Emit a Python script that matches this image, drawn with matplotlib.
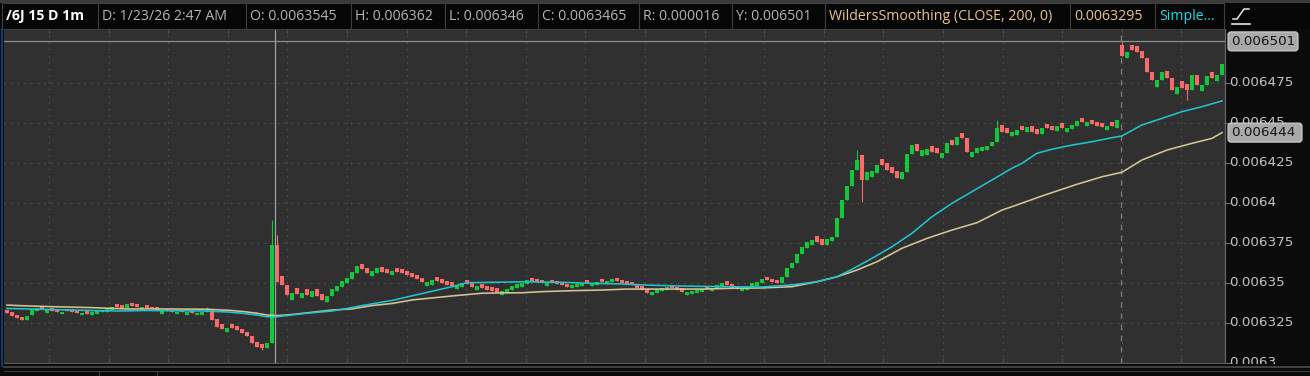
import numpy as np
import matplotlib
matplotlib.use("Agg")
import matplotlib.pyplot as plt
from matplotlib.patches import Rectangle, FancyBboxPatch
from matplotlib.transforms import Bbox, blended_transform_factory

plt.rcParams['lines.scale_dashes'] = False

# ---------------- data ----------------
close = [
    0.0063312, 0.0063294, 0.0063281, 0.0063269, 0.0063294, 0.0063338, 0.0063344, 0.0063338, 0.0063331, 0.0063325,
    0.0063319, 0.0063319, 0.0063325, 0.0063319, 0.0063312, 0.0063312, 0.0063306, 0.0063319, 0.0063325, 0.0063331,
    0.0063338, 0.0063350, 0.0063350, 0.0063344, 0.0063369, 0.0063356, 0.0063350, 0.0063350, 0.0063344, 0.0063338,
    0.0063331, 0.0063325, 0.0063325, 0.0063319, 0.0063319, 0.0063319, 0.0063319, 0.0063312, 0.0063312, 0.0063319,
    0.0063338, 0.0063269, 0.0063225, 0.0063212, 0.0063219, 0.0063219, 0.0063206, 0.0063188, 0.0063169, 0.0063125,
    0.0063100, 0.0063094, 0.0063125, 0.0063738, 0.0063506, 0.0063488, 0.0063425, 0.0063438, 0.0063431, 0.0063438,
    0.0063425, 0.0063450, 0.0063419, 0.0063394, 0.0063419, 0.0063462, 0.0063481, 0.0063512, 0.0063531, 0.0063569,
    0.0063606, 0.0063588, 0.0063562, 0.0063575, 0.0063594, 0.0063569, 0.0063562, 0.0063575, 0.0063569, 0.0063562,
    0.0063550, 0.0063538, 0.0063525, 0.0063506, 0.0063506, 0.0063519, 0.0063512, 0.0063500, 0.0063488, 0.0063481,
    0.0063488, 0.0063500, 0.0063494, 0.0063475, 0.0063481, 0.0063469, 0.0063456, 0.0063450, 0.0063444, 0.0063450,
    0.0063462, 0.0063481, 0.0063494, 0.0063500, 0.0063519, 0.0063512, 0.0063506, 0.0063500, 0.0063500, 0.0063500,
    0.0063494, 0.0063488, 0.0063475, 0.0063488, 0.0063494, 0.0063500, 0.0063500, 0.0063500, 0.0063506, 0.0063506,
    0.0063512, 0.0063525, 0.0063512, 0.0063500, 0.0063494, 0.0063488, 0.0063469, 0.0063456, 0.0063438, 0.0063444,
    0.0063462, 0.0063469, 0.0063475, 0.0063469, 0.0063456, 0.0063444, 0.0063444, 0.0063450, 0.0063456, 0.0063462,
    0.0063462, 0.0063469, 0.0063488, 0.0063500, 0.0063488, 0.0063469, 0.0063462, 0.0063469, 0.0063475, 0.0063500,
    0.0063506, 0.0063525, 0.0063519, 0.0063506, 0.0063500, 0.0063538, 0.0063594, 0.0063625, 0.0063681, 0.0063725,
    0.0063756, 0.0063769, 0.0063756, 0.0063738, 0.0063775, 0.0063788, 0.0063906, 0.0064019, 0.0064106, 0.0064206,
    0.0064269, 0.0064144, 0.0064194, 0.0064200, 0.0064238, 0.0064238, 0.0064206, 0.0064188, 0.0064156, 0.0064194,
    0.0064306, 0.0064362, 0.0064325, 0.0064331, 0.0064338, 0.0064319, 0.0064312, 0.0064312, 0.0064375, 0.0064362,
    0.0064412, 0.0064406, 0.0064319, 0.0064319, 0.0064344, 0.0064350, 0.0064356, 0.0064381, 0.0064469, 0.0064444,
    0.0064438, 0.0064444, 0.0064456, 0.0064456, 0.0064475, 0.0064444, 0.0064431, 0.0064469, 0.0064469, 0.0064456,
    0.0064481, 0.0064469, 0.0064469, 0.0064488, 0.0064512, 0.0064506, 0.0064506, 0.0064494, 0.0064481, 0.0064475,
    0.0064481, 0.0064481, 0.0064519, 0.0064919, 0.0064944, 0.0064956, 0.0064944, 0.0064906, 0.0064819, 0.0064769,
    0.0064769, 0.0064819, 0.0064781, 0.0064706, 0.0064725, 0.0064719, 0.0064706, 0.0064800, 0.0064738, 0.0064738,
    0.0064794, 0.0064781, 0.0064800, 0.0064869,
]
open_ = [
    0.0063330, 0.0063318, 0.0063300, 0.0063286, 0.0063270, 0.0063298, 0.0063324, 0.0063356, 0.0063315, 0.0063342,
    0.0063334, 0.0063304, 0.0063340, 0.0063336, 0.0063328, 0.0063298, 0.0063324, 0.0063302, 0.0063308, 0.0063316,
    0.0063320, 0.0063332, 0.0063368, 0.0063360, 0.0063344, 0.0063374, 0.0063366, 0.0063336, 0.0063360, 0.0063352,
    0.0063348, 0.0063309, 0.0063340, 0.0063334, 0.0063304, 0.0063334, 0.0063302, 0.0063328, 0.0063298, 0.0063302,
    0.0063316, 0.0063330, 0.0063272, 0.0063246, 0.0063194, 0.0063244, 0.0063230, 0.0063212, 0.0063196, 0.0063170,
    0.0063132, 0.0063116, 0.0063092, 0.0063126, 0.0063736, 0.0063544, 0.0063490, 0.0063396, 0.0063466, 0.0063406,
    0.0063460, 0.0063410, 0.0063460, 0.0063430, 0.0063384, 0.0063416, 0.0063450, 0.0063476, 0.0063502, 0.0063528,
    0.0063564, 0.0063618, 0.0063596, 0.0063544, 0.0063564, 0.0063602, 0.0063588, 0.0063548, 0.0063594, 0.0063586,
    0.0063576, 0.0063562, 0.0063552, 0.0063534, 0.0063482, 0.0063490, 0.0063538, 0.0063526, 0.0063512, 0.0063506,
    0.0063464, 0.0063476, 0.0063518, 0.0063500, 0.0063458, 0.0063492, 0.0063480, 0.0063472, 0.0063466, 0.0063428,
    0.0063438, 0.0063454, 0.0063470, 0.0063478, 0.0063494, 0.0063534, 0.0063528, 0.0063520, 0.0063482, 0.0063518,
    0.0063512, 0.0063508, 0.0063496, 0.0063468, 0.0063474, 0.0063482, 0.0063518, 0.0063482, 0.0063488, 0.0063524,
    0.0063494, 0.0063504, 0.0063532, 0.0063520, 0.0063514, 0.0063508, 0.0063494, 0.0063480, 0.0063462, 0.0063424,
    0.0063438, 0.0063448, 0.0063456, 0.0063488, 0.0063478, 0.0063466, 0.0063426, 0.0063430, 0.0063436, 0.0063444,
    0.0063480, 0.0063450, 0.0063464, 0.0063478, 0.0063510, 0.0063494, 0.0063482, 0.0063450, 0.0063456, 0.0063474,
    0.0063484, 0.0063502, 0.0063540, 0.0063528, 0.0063520, 0.0063500, 0.0063538, 0.0063594, 0.0063625, 0.0063681,
    0.0063720, 0.0063736, 0.0063792, 0.0063774, 0.0063736, 0.0063760, 0.0063788, 0.0063906, 0.0064019, 0.0064106,
    0.0064206, 0.0064300, 0.0064144, 0.0064160, 0.0064190, 0.0064274, 0.0064250, 0.0064226, 0.0064200, 0.0064150,
    0.0064194, 0.0064306, 0.0064366, 0.0064294, 0.0064302, 0.0064354, 0.0064346, 0.0064284, 0.0064312, 0.0064396,
    0.0064362, 0.0064438, 0.0064406, 0.0064288, 0.0064310, 0.0064322, 0.0064330, 0.0064354, 0.0064381, 0.0064488,
    0.0064468, 0.0064416, 0.0064428, 0.0064484, 0.0064446, 0.0064480, 0.0064460, 0.0064430, 0.0064496, 0.0064484,
    0.0064452, 0.0064498, 0.0064442, 0.0064460, 0.0064484, 0.0064532, 0.0064480, 0.0064520, 0.0064506, 0.0064500,
    0.0064458, 0.0064504, 0.0064470, 0.0064988, 0.0064906, 0.0064990, 0.0064984, 0.0064950, 0.0064906, 0.0064820,
    0.0064728, 0.0064769, 0.0064826, 0.0064781, 0.0064680, 0.0064760, 0.0064744, 0.0064706, 0.0064800, 0.0064700,
    0.0064738, 0.0064816, 0.0064764, 0.0064798,
]
wick_hi_idx = [40, 53, 54, 170, 198, 223]
wick_hi_val = [0.0063350, 0.0063894, 0.0063800, 0.0064331, 0.0064519, 0.0065006]
wick_lo_idx = [51, 171, 236]
wick_lo_val = [0.0063081, 0.0064006, 0.0064644]

sma_idx = [0, 9, 17, 22, 28, 39, 44, 47, 50, 52,
           54, 57, 60, 65, 68, 71, 74, 77, 83, 89,
           92, 97, 103, 111, 117, 123, 127, 135, 143, 151,
           157, 162, 166, 169, 173, 177, 181, 185, 189, 193,
           197, 201, 203, 206, 209, 213, 217, 221, 223, 227,
           231, 235, 239, 243]
sma_val = [0.0063341, 0.0063334, 0.0063328, 0.0063325, 0.0063328, 0.0063325, 0.0063319, 0.0063311, 0.0063300, 0.0063289,
           0.0063289, 0.0063300, 0.0063311, 0.0063325, 0.0063341, 0.0063359, 0.0063375, 0.0063391, 0.0063434, 0.0063477,
           0.0063502, 0.0063504, 0.0063508, 0.0063504, 0.0063498, 0.0063494, 0.0063488, 0.0063481, 0.0063477, 0.0063475,
           0.0063488, 0.0063508, 0.0063539, 0.0063586, 0.0063654, 0.0063727, 0.0063811, 0.0063914, 0.0063998, 0.0064071,
           0.0064144, 0.0064217, 0.0064248, 0.0064311, 0.0064336, 0.0064362, 0.0064383, 0.0064408, 0.0064419, 0.0064488,
           0.0064529, 0.0064571, 0.0064602, 0.0064638]

wild_idx = [0, 3, 9, 17, 24, 31, 40, 45, 48, 50,
            52, 54, 57, 61, 65, 69, 73, 77, 81, 89,
            95, 98, 103, 107, 113, 119, 124, 139, 145, 151,
            157, 162, 166, 170, 174, 179, 184, 189, 194, 199,
            201, 207, 214, 219, 223, 227, 232, 237, 241, 243]
wild_val = [0.0063362, 0.0063358, 0.0063352, 0.0063346, 0.0063338, 0.0063338, 0.0063336, 0.0063328, 0.0063319, 0.0063311,
            0.0063300, 0.0063296, 0.0063303, 0.0063317, 0.0063331, 0.0063338, 0.0063359, 0.0063372, 0.0063394, 0.0063419,
            0.0063436, 0.0063438, 0.0063439, 0.0063446, 0.0063452, 0.0063456, 0.0063462, 0.0063462, 0.0063467, 0.0063469,
            0.0063477, 0.0063508, 0.0063539, 0.0063581, 0.0063633, 0.0063717, 0.0063779, 0.0063831, 0.0063877, 0.0063956,
            0.0063977, 0.0064044, 0.0064117, 0.0064164, 0.0064192, 0.0064269, 0.0064331, 0.0064373, 0.0064404, 0.0064440]

ytick_vals = [0.0063, 0.006325, 0.00635, 0.006375, 0.0064, 0.006425, 0.00645, 0.006475]
ytick_labels = ["0.0063", "0.006325", "0.00635", "0.006375", "0.0064", "0.006425", "0.00645", "0.006475"]
last_price = 0.006501
last_price_label = "0.006501"
wild_last = 0.006444
wild_last_label = "0.006444"

header_items = [
    ("/6J 15 D 1m", "#ffffff", "bold"),
    ("D: 1/23/26 2:47 AM", "#b4b4b4", "normal"),
    ("O: 0.0063545", "#b4b4b4", "normal"),
    ("H: 0.006362", "#b4b4b4", "normal"),
    ("L: 0.006346", "#b4b4b4", "normal"),
    ("C: 0.0063465", "#b4b4b4", "normal"),
    ("R: 0.000016", "#b4b4b4", "normal"),
    ("Y: 0.006501", "#b4b4b4", "normal"),
    ("WildersSmoothing (CLOSE, 200, 0)", "#ecc685", "normal"),
    ("0.0063295", "#ecc685", "normal"),
    ("Simple...", "#1fd8e8", "normal"),
]
header_edges = [2, 98, 246, 351, 445, 538, 639, 732, 825, 1070, 1155, 1224]

# ---------------- layout ----------------
W, H = 1310, 376
PX_L, PX_R, PX_T, PX_B = 4, 1225, 29, 363
fig = plt.figure(figsize=(W / 100, H / 100), dpi=100, facecolor="#0b0b0b")
ax = fig.add_axes([PX_L / W, (H - PX_B) / H, (PX_R - PX_L) / W, (PX_B - PX_T) / H],
                  facecolor="#303030")
n = len(close)
ax.set_xlim(-0.6, n - 0.4)
ax.set_ylim(0.0063, 0.0063 + (PX_B - PX_T) * 6.25e-7)
ax.set_xticks([])
ax.set_yticks([])
for s in ["top", "left"]:
    ax.spines[s].set_visible(False)
ax.spines["right"].set_color("#686868")
ax.spines["bottom"].set_color("#5a5a5a")
ax.spines["right"].set_linewidth(0.9)
ax.spines["bottom"].set_linewidth(0.9)

dot = (0, (0.8, 4.0))
for v in ytick_vals[1:]:
    ax.axhline(v, color="#5e5e5e", lw=0.8, ls=dot, zorder=1)
vgrid_px = [49 + 59.6 * k for k in range(20)]
vgrid_idx = [(p - 7) / 5 for p in vgrid_px]
for xi in vgrid_idx:
    ax.axvline(xi, color="#5e5e5e", lw=0.8, ls=dot, zorder=1)

# candles
c = np.array(close)
o = np.array(open_)
hi = np.maximum(o, c)
lo = np.minimum(o, c)
hi[wick_hi_idx] = np.maximum(hi[wick_hi_idx], wick_hi_val)
lo[wick_lo_idx] = np.minimum(lo[wick_lo_idx], wick_lo_val)
idx = np.arange(n)
flat = np.isclose(o, c, rtol=0, atol=1e-10)
colors = np.where(flat, "#b0b0b0", np.where(c > o, "#12c83a", "#f96a6a"))
bot = np.where(flat, c - 3.2e-7, np.minimum(o, c))
top = np.where(flat, c + 3.2e-7, np.maximum(o, c))
ax.vlines(idx, lo, hi, colors=colors, lw=0.8, zorder=3)
ax.vlines(idx, bot, top, colors=colors, lw=2.9, zorder=3)

ax.plot(wild_idx, wild_val, color="#d4c596", lw=1.15, zorder=4)
ax.plot(sma_idx, sma_val, color="#20c4cf", lw=1.15, zorder=4)

ax.axhline(last_price, color="#8e8e8e", lw=0.9, zorder=2)
ax.axvline((275 - 7) / 5, color="#a0a0a0", lw=0.9, zorder=5)
ax.axvline((1121 - 7) / 5, color="#7c7c7c", lw=0.9, ls=(0, (4, 4)), zorder=2)

# ---------------- overlay (pixel coords) ----------------
ov = fig.add_axes([0, 0, 1, 1], zorder=5)
ov.set_xlim(0, W)
ov.set_ylim(H, 0)
ov.axis("off")

ov.add_patch(Rectangle((0, 0), PX_L, H, color="#0b0b0b", lw=0))
ov.plot([2, 2], [29, 366], color="#0d3f6e", lw=1.4)
ov.add_patch(Rectangle((0, 0), W, 3, color="#3a3a3a", lw=0))
ov.add_patch(Rectangle((0, 3), W, PX_T - 3, color="#060606", lw=0))
for (txt, col, wt), x0, x1 in zip(header_items, header_edges[:-1], header_edges[1:]):
    ov.add_patch(Rectangle((x0, 3), x1 - x0, 25.5, facecolor="#060606",
                           edgecolor="#3e3e3e", lw=0.8))
    ov.text(x0 + 4, 16, txt, color=col, fontsize=10.2, fontweight=wt,
            family="Open Sans", va="center", ha="left")
ov.plot([1233, 1237, 1244, 1249], [19, 19, 9, 9], color="#e6e6e6", lw=1.1)
ov.plot([1232, 1250], [24, 24], color="#e6e6e6", lw=1.2)
for p in vgrid_px:
    ov.plot([p, p], [29, 33], color="#4a4a4a", lw=0.8)
    ov.plot([p, p], [359, 363], color="#4a4a4a", lw=0.8)
ov.add_patch(Rectangle((PX_L, 364), W - PX_L, H - 364, color="#0b0b0b", lw=0))
ov.plot([PX_L, W], [366.5, 366.5], color="#4a4a4a", lw=1.2)
ov.plot([PX_L, W], [370.5, 370.5], color="#3c3c3c", lw=0.8)
for p in [99, 157]:
    ov.plot([p, p], [370.5, H], color="#3c3c3c", lw=0.8)

bt = blended_transform_factory(ax.transAxes, ax.transData)
clip = Bbox.from_extents(PX_R + 1, H - 366, W, H - PX_T)
for v, lab in zip(ytick_vals, ytick_labels):
    t = fig.text((1229 - PX_L) / (PX_R - PX_L), v, lab, transform=bt, color="#c2c2c2",
                 fontsize=9.7, family="DejaVu Sans", va="center", ha="left")
    t.set_clip_box(clip)
    t.set_clip_on(True)
    ax.plot([1.0, 1.004], [v, v], transform=bt, color="#686868", lw=0.9, clip_on=False)


def ypx(v):
    return H - ax.transData.transform((0, v))[1]


for v, lab, w in [(last_price, last_price_label, 70), (wild_last, wild_last_label, 74)]:
    yp = ypx(v)
    ov.add_patch(FancyBboxPatch((1228, yp - 9.5), w, 19,
                                boxstyle="round,pad=0,rounding_size=3",
                                facecolor="#a9a9a9", edgecolor="#d4d4d4", lw=0.8, zorder=6))
    ov.text(1231, yp, lab, color="#141414", fontsize=9.7, family="DejaVu Sans",
            va="center", ha="left", zorder=7)

fig.savefig("out.png", dpi=100, facecolor=fig.get_facecolor())
